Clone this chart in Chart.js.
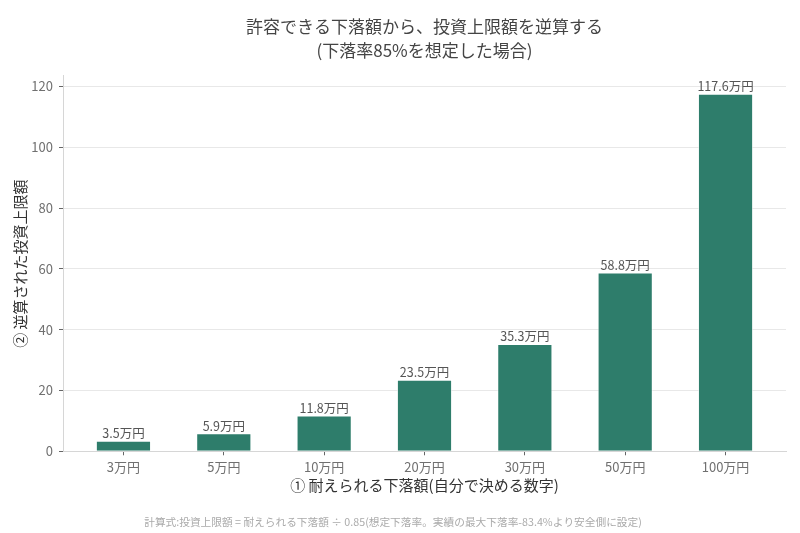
<!DOCTYPE html>
<html>
<head>
<meta charset="utf-8">
<script src="https://cdn.jsdelivr.net/npm/chart.js@4"></script>
<style>
    html, body { margin: 0; padding: 0; background: #fff; }
    #chart { display: block; }
</style>
</head>
<body>
<canvas id="chart" width="800" height="533"></canvas>
<script>
// Chart data
const lossLabels = ["3万円", "5万円", "10万円", "20万円", "30万円", "50万円", "100万円"];
const limitValues = [3.5, 5.9, 11.8, 23.5, 35.3, 58.8, 117.6];
const yTicks = [0, 20, 40, 60, 80, 100, 120];

const titleLines = ["許容できる下落額から、投資上限額を逆算する", "(下落率85%を想定した場合)"];
const xTitle = "① 耐えられる下落額(自分で決める数字)";
const yTitle = "② 逆算された投資上限額";
const noteText = "計算式:投資上限額 = 耐えられる下落額 ÷ 0.85(想定下落率。実績の最大下落率-83.4%より安全側に設定)";

const barColor = "#2e7d6b";
const fontFamily = '"Noto Sans CJK JP", "Noto Sans", sans-serif';

Chart.defaults.font.family = fontFamily;

// Draw value labels above each bar
const valueLabels = {
    id: "valueLabels",
    afterDatasetsDraw(chart) {
        const ctx = chart.ctx;
        const meta = chart.getDatasetMeta(0);
        ctx.save();
        ctx.font = "12.5px " + fontFamily;
        ctx.fillStyle = "#555";
        ctx.textAlign = "center";
        ctx.textBaseline = "bottom";
        meta.data.forEach((bar, i) => {
            ctx.fillText(limitValues[i].toFixed(1) + "万円", bar.x, bar.y - 1);
        });
        ctx.restore();
    }
};

const ctx = document.getElementById("chart").getContext("2d");

new Chart(ctx, {
    type: "bar",
    data: {
        datasets: [{
            data: limitValues.map((v, i) => ({ x: i, y: v })),
            backgroundColor: barColor,
            borderColor: "rgba(255, 255, 255, 0.6)",
            borderWidth: 1,
            barPercentage: 1,
            categoryPercentage: 0.55
        }]
    },
    options: {
        responsive: false,
        animation: false,
        layout: {
            padding: { left: 0, right: 14, top: 0, bottom: 0 }
        },
        scales: {
            x: {
                type: "linear",
                min: -0.6025,
                max: 6.6025,
                offset: false,
                afterBuildTicks: (axis) => {
                    axis.ticks = lossLabels.map((_, i) => ({ value: i }));
                },
                afterFit: (axis) => { axis.height = 56.5; },
                ticks: {
                    autoSkip: false,
                    maxRotation: 0,
                    padding: 4,
                    color: "#707070",
                    font: { size: 13 },
                    callback: (value) => lossLabels[value]
                },
                grid: {
                    offset: false,
                    drawOnChartArea: false,
                    drawTicks: true,
                    tickLength: 4,
                    tickColor: "#666"
                },
                border: { display: true, color: "#d6d6d6", width: 1 },
                title: {
                    display: true,
                    text: xTitle,
                    color: "#333",
                    font: { size: 15 },
                    padding: { top: 0, bottom: 13.5 }
                }
            },
            y: {
                min: 0,
                max: 123.48,
                afterBuildTicks: (axis) => {
                    axis.ticks = yTicks.map(v => ({ value: v }));
                },
                afterFit: (axis) => { axis.width = 63; },
                ticks: {
                    padding: 6,
                    color: "#707070",
                    font: { size: 13 }
                },
                grid: {
                    color: "#e8e8e8",
                    drawTicks: true,
                    tickLength: 4,
                    tickColor: "#666"
                },
                border: { display: true, color: "#d6d6d6", width: 1 },
                title: {
                    display: true,
                    text: yTitle,
                    color: "#333",
                    font: { size: 15 },
                    padding: { top: 11, bottom: 0 }
                }
            }
        },
        plugins: {
            legend: { display: false },
            tooltip: { enabled: false },
            title: {
                display: true,
                fullSize: false,
                text: titleLines,
                color: "#444",
                font: { size: 17, weight: "normal", lineHeight: 1.42 },
                padding: { top: 14, bottom: 13.7 }
            },
            subtitle: {
                display: true,
                position: "bottom",
                text: noteText,
                color: "#aaa",
                font: { size: 10.7, lineHeight: 1.45 },
                padding: { top: 6.7, bottom: 3 }
            }
        }
    },
    plugins: [valueLabels]
});
</script>
</body>
</html>
